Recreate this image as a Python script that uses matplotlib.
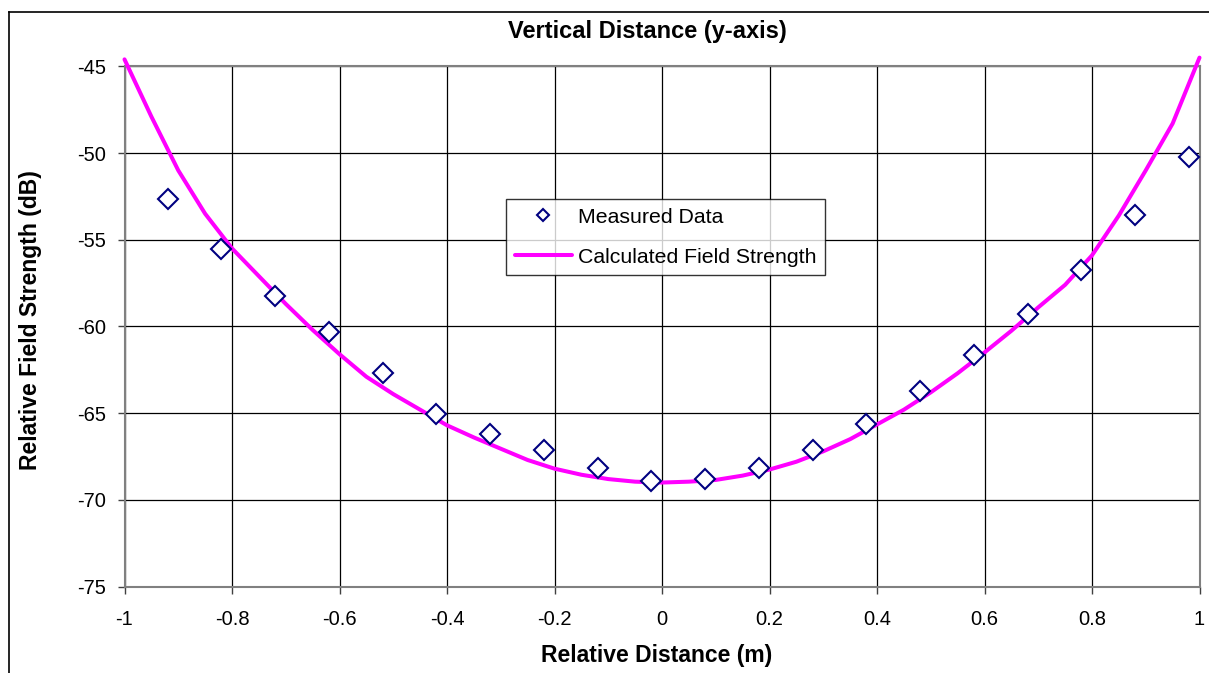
import matplotlib
matplotlib.use("Agg")
import matplotlib.pyplot as plt
from matplotlib.lines import Line2D

plt.rcParams['font.family'] = ['Liberation Sans', 'DejaVu Sans']
plt.rcParams['axes.unicode_minus'] = False

# Measured data
meas_x = [-0.92, -0.82, -0.72, -0.62, -0.52, -0.42, -0.32, -0.22, -0.12, -0.02,
          0.08, 0.18, 0.28, 0.38, 0.48, 0.58, 0.68, 0.78, 0.88, 0.98]
meas_y = [-52.65, -55.54, -58.25, -60.33, -62.69, -65.05, -66.2, -67.13, -68.17, -68.92,
          -68.8, -68.17, -67.13, -65.63, -63.73, -61.65, -59.29, -56.75, -53.58, -50.24]

# Calculated field strength
calc_x = [-1.00, -0.95, -0.90, -0.85, -0.80, -0.75, -0.70, -0.65, -0.60, -0.55,
          -0.50, -0.45, -0.40, -0.35, -0.30, -0.25, -0.20, -0.15, -0.10, -0.05,
          0.00, 0.05, 0.10, 0.15, 0.20, 0.25, 0.30, 0.35, 0.40, 0.45,
          0.50, 0.55, 0.60, 0.65, 0.70, 0.75, 0.80, 0.85, 0.90, 0.95, 1.00]
calc_y = [-44.6, -47.9, -51.0, -53.5, -55.5, -57.1, -58.7, -60.2, -61.6, -62.9,
          -63.9, -64.8, -65.7, -66.4, -67.05, -67.7, -68.2, -68.55, -68.8, -68.95,
          -69.0, -68.95, -68.85, -68.6, -68.25, -67.8, -67.2, -66.5, -65.65, -64.8,
          -63.8, -62.7, -61.5, -60.25, -58.9, -57.6, -55.9, -53.6, -51.0, -48.3, -44.5]

x_ticks = [-1, -0.8, -0.6, -0.4, -0.2, 0, 0.2, 0.4, 0.6, 0.8, 1]
x_tick_labels = ['-1', '-0.8', '-0.6', '-0.4', '-0.2', '0', '0.2', '0.4', '0.6', '0.8', '1']
y_ticks = [-75, -70, -65, -60, -55, -50, -45]

W, H = 1209, 673
fig = plt.figure(figsize=(W / 100, H / 100), dpi=100)
ax = fig.add_axes([124.5 / W, 1 - 586.6 / H, 1075 / W, 520.3 / H])

ax.plot(calc_x, calc_y, color='#FF00FF', lw=2.9, zorder=3, clip_on=False,
        label='Calculated Field Strength', solid_capstyle='round')
ax.plot(meas_x, meas_y, linestyle='none', marker='D', markersize=10,
        markerfacecolor='white', markeredgecolor='#000080', markeredgewidth=1.5,
        zorder=4, label='Measured Data')

ax.set_xlim(-1, 1)
ax.set_ylim(-75, -45)
ax.set_xticks(x_ticks)
ax.set_xticklabels(x_tick_labels)
ax.set_yticks(y_ticks)
ax.grid(True, color='black', lw=0.9)
ax.set_axisbelow(True)
for s in ax.spines.values():
    s.set_color('#808080')
    s.set_linewidth(1.5)
ax.tick_params(axis='both', direction='out', length=5, width=1, color='#404040',
               labelsize=14.5)
ax.tick_params(axis='y', pad=8)
ax.tick_params(axis='x', pad=12)

fig.text(647.5 / W, 1 - 38 / H, 'Vertical Distance (y-axis)', fontsize=17,
         fontweight='bold', ha='center', va='baseline')
fig.text(657 / W, 1 - 662 / H, 'Relative Distance (m)', fontsize=16.5,
         fontweight='bold', ha='center', va='baseline')
fig.text(31 / W, 1 - 320 / H, 'Relative Field Strength (dB)', fontsize=16.5,
         fontweight='bold', ha='center', va='center', rotation=90)

h, l = ax.get_legend_handles_labels()
leg = fig.legend([h[1], h[0]], [l[1], l[0]], loc='upper left',
                 bbox_to_anchor=(506 / W, 1 - 199 / H), bbox_transform=fig.transFigure,
                 borderaxespad=0, fontsize=15.3, frameon=True,
                 fancybox=False, edgecolor='black', borderpad=0.4,
                 handlelength=2.7, handletextpad=0.3, labelspacing=1.0,
                 markerscale=0.6)
leg.get_frame().set_linewidth(1.0)

fig.add_artist(Line2D([9 / W, 9 / W], [0, 1 - 12 / H], color='black', lw=1.2,
                      transform=fig.transFigure))
fig.add_artist(Line2D([9 / W, 1], [1 - 12 / H, 1 - 12 / H], color='black', lw=1.2,
                      transform=fig.transFigure))

fig.savefig('out.png', dpi=100)
